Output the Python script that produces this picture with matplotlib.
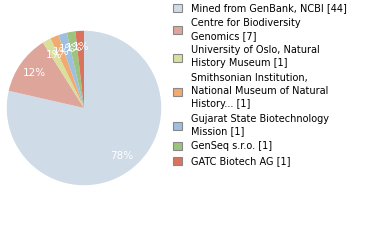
import matplotlib
matplotlib.use('Agg')
import matplotlib.pyplot as plt
from matplotlib.patches import Patch

labels = [
    'Mined from GenBank, NCBI [44]',
    'Centre for Biodiversity\nGenomics [7]',
    'University of Oslo, Natural\nHistory Museum [1]',
    'Smithsonian Institution,\nNational Museum of Natural\nHistory... [1]',
    'Gujarat State Biotechnology\nMission [1]',
    'GenSeq s.r.o. [1]',
    'GATC Biotech AG [1]',
]
counts = [44, 7, 1, 1, 1, 1, 1]
colors = ['#cfdbe6', '#dea69b', '#d9e09b', '#f0ab70', '#9fbfe1', '#9cc47e', '#da735d']

fig = plt.figure(figsize=(3.8, 2.4), dpi=100)
ax = fig.add_axes([6 / 380, 54 / 240, 156 / 380, 156 / 240])

wedges, texts, autotexts = ax.pie(
    counts, colors=colors, startangle=90, counterclock=False,
    autopct=lambda p: '%d%%' % int(p), pctdistance=0.79,
    textprops=dict(color='white', fontsize=7.5),
    wedgeprops=dict(linewidth=0),
)
ax.set_xlim(-1.01, 1.01)
ax.set_ylim(-1.01, 1.01)
ax.set_aspect('equal')

handles = [Patch(facecolor=c, edgecolor='#888888', linewidth=0.8) for c in colors]
leg = fig.legend(handles, labels, loc='upper left', bbox_to_anchor=(172 / 380, 238 / 240),
                 frameon=False, fontsize=7, handlelength=0.9, handleheight=0.9,
                 handletextpad=1.0, labelspacing=0.5, borderaxespad=0.0, borderpad=0.1)
for t in leg.get_texts():
    t.set_linespacing(1.35)

fig.savefig('out.png', dpi=100)
